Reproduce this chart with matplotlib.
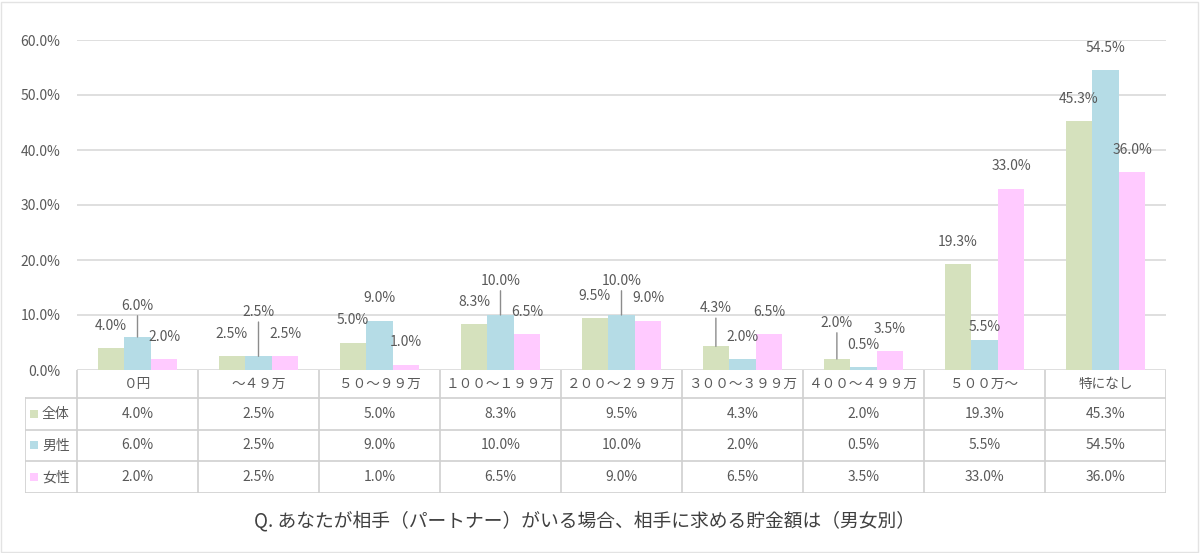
import matplotlib

matplotlib.use("Agg")
import matplotlib.pyplot as plt
import numpy as np
from matplotlib.patches import Rectangle

plt.rcParams["font.family"] = ["Noto Sans CJK JP", "DejaVu Sans"]

# ── data ───────────────────────────────────────────────────────────────────
CATEGORIES = [
    "０円", "～４９万", "５０～９９万", "１００～１９９万", "２００～２９９万",
    "３００～３９９万", "４００～４９９万", "５００万～", "特になし",
]
SERIES = ["全体", "男性", "女性"]
TOTAL = [4.0, 2.5, 5.0, 8.3, 9.5, 4.3, 2.0, 19.3, 45.3]
MALE = [6.0, 2.5, 9.0, 10.0, 10.0, 2.0, 0.5, 5.5, 54.5]
FEMALE = [2.0, 2.5, 1.0, 6.5, 9.0, 6.5, 3.5, 33.0, 36.0]
Y_TICKS = [0, 10, 20, 30, 40, 50, 60]
CAPTION = "Q. あなたが相手（パートナー）がいる場合、相手に求める貯金額は（男女別）"

# ── style ──────────────────────────────────────────────────────────────────
COLORS = ["#d5e1bd", "#b5dce6", "#ffcaff"]
TEXT = "#595959"
GRID = "#d9d9d9"
LINE = "#d0d0d0"
W, H = 1200, 553
BAR_W = 0.22
LABEL_LIFT = 22  # px above bar top
# (series, category) -> (lift in px, leader line)
LABEL_TWEAKS = {
    (1, 0): (31, True), (1, 1): (44, True), (1, 3): (34, True),
    (1, 4): (34, True), (0, 5): (38, True), (0, 6): (36, True),
    (1, 7): (13, False),
}

# layout in pixels
PLOT_L, PLOT_R, PLOT_T, PLOT_B = 77, 1166, 40, 370
TAB_L, HEAD_B, TAB_B = 25, 398, 493


def fig_rect(x0, y0, x1, y1):
    return [x0 / W, 1 - y1 / H, (x1 - x0) / W, (y1 - y0) / H]


fig = plt.figure(figsize=(W / 100, H / 100), dpi=100)
fig.patches.append(Rectangle((0.001, 0.001), 0.997, 0.996, transform=fig.transFigure,
                             fill=False, edgecolor="#e3e3e3", lw=1))

ax = fig.add_axes(fig_rect(PLOT_L, PLOT_T, PLOT_R, PLOT_B))
x = np.arange(len(CATEGORIES))
values = [TOTAL, MALE, FEMALE]
for s, vals in enumerate(values):
    xs = x + (s - 1) * BAR_W
    ax.bar(xs, vals, BAR_W, color=COLORS[s], zorder=2)
    for c, v in enumerate(vals):
        lift, leader = LABEL_TWEAKS.get((s, c), (LABEL_LIFT, False))
        kw = {}
        if leader:
            kw["arrowprops"] = dict(arrowstyle="-", color="#8c8c8c", lw=1,
                                    shrinkA=0, shrinkB=0)
        ax.annotate(f"{v:.1f}%", xy=(xs[c], v), xytext=(0, lift),
                    textcoords="offset pixels", ha="center", va="center",
                    fontsize=10, color=TEXT, zorder=3, **kw)

ax.set_xlim(-0.5, len(CATEGORIES) - 0.5)
ax.set_ylim(0, 60)
ax.set_yticks(Y_TICKS)
ax.set_yticklabels([f"{t:.1f}%" for t in Y_TICKS])
ax.set_xticks([])
ax.tick_params(axis="y", length=0, pad=12, labelcolor=TEXT, labelsize=10)
ax.yaxis.grid(True, color=GRID, lw=1.2, zorder=0)
ax.set_axisbelow(True)
for sp in ax.spines.values():
    sp.set_visible(False)

# ── data table ─────────────────────────────────────────────────────────────
tab = fig.add_axes(fig_rect(TAB_L, PLOT_B, PLOT_R, TAB_B))
tab.set_xlim(TAB_L, PLOT_R)
tab.set_ylim(TAB_B, PLOT_B)
tab.axis("off")
col_w = (PLOT_R - PLOT_L) / len(CATEGORIES)
row_edges = np.linspace(HEAD_B, TAB_B, len(SERIES) + 1)

for i in range(len(CATEGORIES) + 1):
    tab.plot([PLOT_L + i * col_w] * 2, [PLOT_B, TAB_B], color=LINE, lw=1.2)
tab.plot([TAB_L, TAB_L], [HEAD_B, TAB_B], color=LINE, lw=1.2)
for yy in row_edges:
    tab.plot([TAB_L, PLOT_R], [yy, yy], color=LINE, lw=1.2)

for c, name in enumerate(CATEGORIES):
    tab.text(PLOT_L + (c + 0.5) * col_w, (PLOT_B + HEAD_B) / 2, name,
             ha="center", va="center", fontsize=9.8, color=TEXT)

for s, vals in enumerate(values):
    yc = (row_edges[s] + row_edges[s + 1]) / 2
    tab.add_patch(Rectangle((30, yc - 4), 8, 8, color=COLORS[s], lw=0))
    tab.text(42, yc, SERIES[s], ha="left", va="center", fontsize=10, color=TEXT)
    for c, v in enumerate(vals):
        tab.text(PLOT_L + (c + 0.5) * col_w, yc, f"{v:.1f}%",
                 ha="center", va="center", fontsize=10, color=TEXT)

fig.text(585 / W, 1 - 521 / H, CAPTION, ha="center", va="center",
         fontsize=13.5, color="#404040")

fig.savefig("out.png", dpi=100)
